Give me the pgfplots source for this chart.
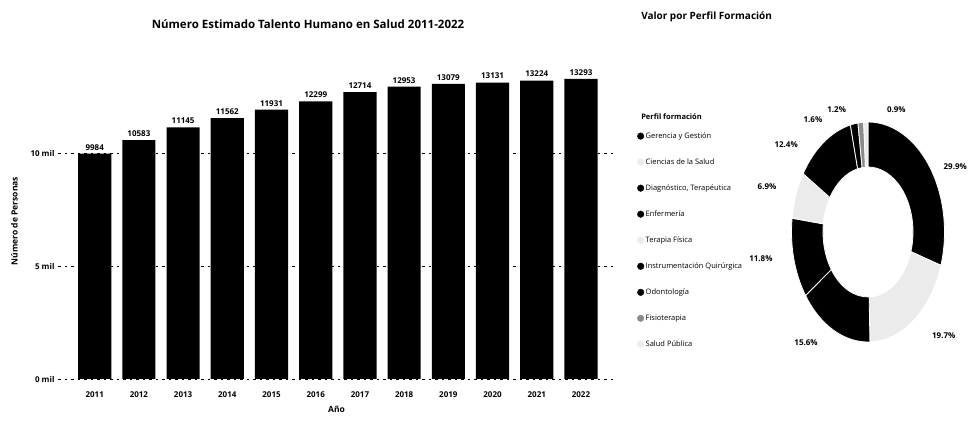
\documentclass[border=0pt]{standalone}
\usepackage{pgfplots}
\pgfplotsset{compat=1.18}
\usepackage{fontspec}
\setmainfont{Open Sans}
\usetikzlibrary{calc}
\pgfplotsset{/pgf/number format/assume math mode=true}
\newcommand\smallfont{\fontsize{8}{9}\selectfont\bfseries}
\newcommand\pielabfont{\fontsize{8}{9}\selectfont\bfseries}
\begin{document}
\begin{tikzpicture}
\path[use as bounding box] (0pt,0pt) rectangle (973pt,425pt);
% ---------------- bar chart ----------------
\begin{axis}[
  at={(58pt,46pt)}, anchor=south west,
  scale only axis, width=557pt, height=316pt,
  xmin=-0.83, xmax=11.77, ymin=0, ymax=14000,
  clip=false,
  scaled y ticks=false,
  axis line style={draw=none},
  major tick length=0pt,
  xtick={0,...,11},
  xticklabels={2011,2012,2013,2014,2015,2016,2017,2018,2019,2020,2021,2022},
  ytick={0,5000,10000}, yticklabels={0 mil,5 mil,10 mil},
  ymajorgrids,
  grid style={black, line width=0.6pt, dash pattern=on 2.5pt off 4pt},
  tick label style={font=\smallfont},
  xticklabel style={yshift=-9pt},
  xlabel={Año}, ylabel={Número de Personas},
  xlabel shift=2pt, ylabel shift=6pt,
  label style={font=\fontsize{8.5}{10}\selectfont\bfseries},
]
\addplot[ybar, bar width=0.75, fill=black, draw=none,
  nodes near coords={\pgfmathprintnumber[fixed,precision=0,1000 sep={}]{\pgfplotspointmeta}},
  nodes near coords style={font=\smallfont, text=black}]
  coordinates {(0,9984) (1,10583) (2,11145) (3,11562) (4,11931) (5,12299)
               (6,12714) (7,12953) (8,13079) (9,13131) (10,13224) (11,13293)};
\end{axis}
\node[font=\fontsize{11.5}{13}\selectfont\bfseries] at (308pt,401pt)
  {Número Estimado Talento Humano en Salud 2011-2022};
% ---------------- donut chart ----------------
\begin{axis}[
  at={(868pt,193pt)}, anchor=center,
  scale only axis, width=153pt, height=220pt,
  xmin=-1, xmax=1, ymin=-1, ymax=1,
  hide axis, clip=false,
  legend style={draw=none, fill=none, at={(axis cs:-3.02,0.92)}, anchor=north west,
    font=\fontsize{7.5}{8}\selectfont, row sep=15.8pt, inner sep=0pt,
    nodes={inner sep=1.5pt}},
  legend cell align=left,
  legend image code/.code={\fill[#1] (3pt,0pt) circle (3.3pt);},
]
\addlegendimage{black}   \addlegendentry{Gerencia y Gestión}
\addlegendimage{black!8} \addlegendentry{Ciencias de la Salud}
\addlegendimage{black}   \addlegendentry{Diagnóstico, Terapéutica}
\addlegendimage{black}   \addlegendentry{Enfermería}
\addlegendimage{black!8} \addlegendentry{Terapia Física}
\addlegendimage{black}   \addlegendentry{Instrumentación Quirúrgica}
\addlegendimage{black}   \addlegendentry{Odontología}
\addlegendimage{black!45}\addlegendentry{Fisioterapia}
\addlegendimage{black!8} \addlegendentry{Salud Pública}
\gdef\cum{0}
\foreach \p/\col/\lx/\ly in {29.9/black/1.14/0.59, 19.7/black!8/0.99/-0.94,
    15.6/black/-0.81/-1.01, 11.8/black/-1.40/-0.24, 6.9/black!8/-1.32/0.41,
    12.4/black/-1.07/0.79, 1.6/black/-0.72/1.02, 1.2/black!45/-0.41/1.11,
    0.9/black!8/0.37/1.11}{
  \pgfmathsetmacro\aA{90-3.6*\cum}
  \pgfmathsetmacro\aB{90-3.6*(\cum+\p)}
  \edef\temp{\noexpand\fill[\col, draw=white, line width=0.8pt]
    ($(axis cs:0,0)+(\aA:76.5pt and 110pt)$)
    arc[start angle=\aA, end angle=\aB, x radius=76.5pt, y radius=110pt]
    -- ($(axis cs:0,0)+(\aB:45pt and 65pt)$)
    arc[start angle=\aB, end angle=\aA, x radius=45pt, y radius=65pt] -- cycle;}
  \temp
  \edef\temp{\noexpand\node[font=\noexpand\pielabfont] at (axis cs:\lx,\ly) {\p\noexpand\%};}
  \temp
  \pgfmathsetmacro\newcum{\cum+\p}
  \xdef\cum{\newcum}
}
\node[font=\fontsize{7.5}{8}\selectfont\bfseries, anchor=west] at (axis cs:-3.01,1.045) {Perfil formación};
\node[font=\fontsize{10}{12}\selectfont\bfseries, anchor=west] at (axis cs:-3.01,1.955) {Valor por Perfil Formación};
\end{axis}
\end{tikzpicture}
\end{document}
